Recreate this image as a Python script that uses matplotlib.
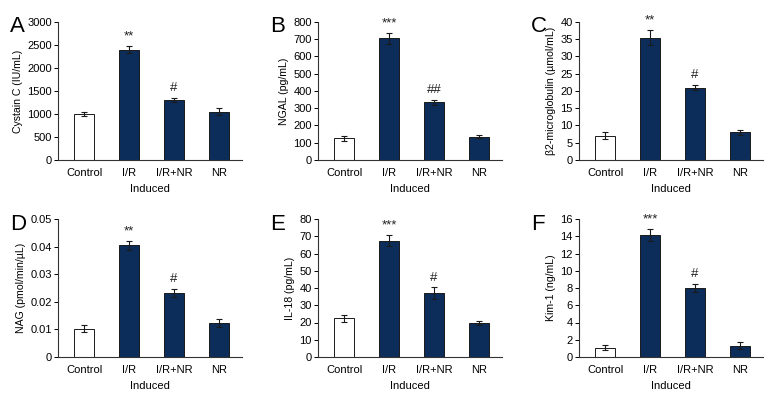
import matplotlib.pyplot as plt

groups = ["Control", "I/R", "I/R+NR", "NR"]

cys_c = [1000, 2400, 1300, 1050]
cys_c_err = [50, 80, 50, 70]
ngal = [125, 705, 335, 135]
ngal_err = [15, 30, 15, 10]
b2m = [7.0, 35.5, 21.0, 8.0]
b2m_err = [1.0, 2.2, 0.8, 0.7]
nag = [0.0103, 0.0405, 0.0232, 0.0124]
nag_err = [0.0012, 0.0016, 0.0016, 0.0014]
il18 = [22.5, 67.5, 37.0, 19.8]
il18_err = [2.0, 3.0, 3.5, 1.0]
kim1 = [1.1, 14.1, 8.0, 1.3]
kim1_err = [0.3, 0.7, 0.5, 0.4]

marks = {
    "A": ["", "**", "#", ""],
    "B": ["", "***", "##", ""],
    "C": ["", "**", "#", ""],
    "D": ["", "**", "#", ""],
    "E": ["", "***", "#", ""],
    "F": ["", "***", "#", ""],
}

plt.rcParams["font.family"] = ["Liberation Sans", "DejaVu Sans"]

navy = "#0c2d5a"
colors = ["white", navy, navy, navy]

panels = [
    ("A", cys_c, cys_c_err, "Cystain C (IU/mL)", 3000, 500, "{:.0f}"),
    ("B", ngal, ngal_err, "NGAL (pg/mL)", 800, 100, "{:.0f}"),
    ("C", b2m, b2m_err, "β2-microglobulin (µmol/mL)", 40, 5, "{:.0f}"),
    ("D", nag, nag_err, "NAG (pmol/min/µL)", 0.05, 0.01, "{:g}"),
    ("E", il18, il18_err, "IL-18 (pg/mL)", 80, 10, "{:.0f}"),
    ("F", kim1, kim1_err, "Kim-1 (ng/mL)", 16, 2, "{:.0f}"),
]

W, H = 780, 408
lefts = [58, 318, 579]
tops = [22, 219]
aw, ah = 184, 138

fig = plt.figure(figsize=(7.8, 4.08), dpi=100)

for i, (letter, vals, errs, ylabel, ymax, step, fmt) in enumerate(panels):
    r, c = divmod(i, 3)
    left = lefts[c]
    top = tops[r]
    ax = fig.add_axes([left / W, 1 - (top + ah) / H, aw / W, ah / H])
    x = range(len(groups))
    ax.bar(x, vals, width=0.44, color=colors, edgecolor="#1a1a1a", linewidth=0.7,
           yerr=errs, error_kw=dict(ecolor="#1a1a1a", elinewidth=0.8, capsize=2.2, capthick=0.8))
    for xi, v, e, m in zip(x, vals, errs, marks[letter]):
        if m:
            ax.text(xi, v + e + ymax * 0.025, m, ha="center", va="bottom", fontsize=9.5, color="#222222")
    ax.set_xlim(-0.58, 3.51)
    ax.set_ylim(0, ymax)
    ticks = [k * step for k in range(int(round(ymax / step)) + 1)]
    ax.set_yticks(ticks)
    ax.set_yticklabels([fmt.format(t) for t in ticks])
    ax.set_xticks(list(x))
    ax.set_xticklabels(groups)
    ax.tick_params(axis="x", length=0, pad=6, labelsize=8)
    ax.tick_params(axis="y", length=3, width=0.7, pad=1.5, labelsize=8)
    for s in ["top", "right"]:
        ax.spines[s].set_visible(False)
    for s in ["left", "bottom"]:
        ax.spines[s].set_linewidth(0.8)
        ax.spines[s].set_color("#333333")
    ax.set_ylabel(ylabel, fontsize=7.6, labelpad=3)
    ax.set_xlabel("Induced", fontsize=8, labelpad=4)
    fig.text((left - 48) / W, 1 - (top + 5) / H, letter, fontsize=16, ha="left", va="center")

fig.savefig("out.png", dpi=100)
